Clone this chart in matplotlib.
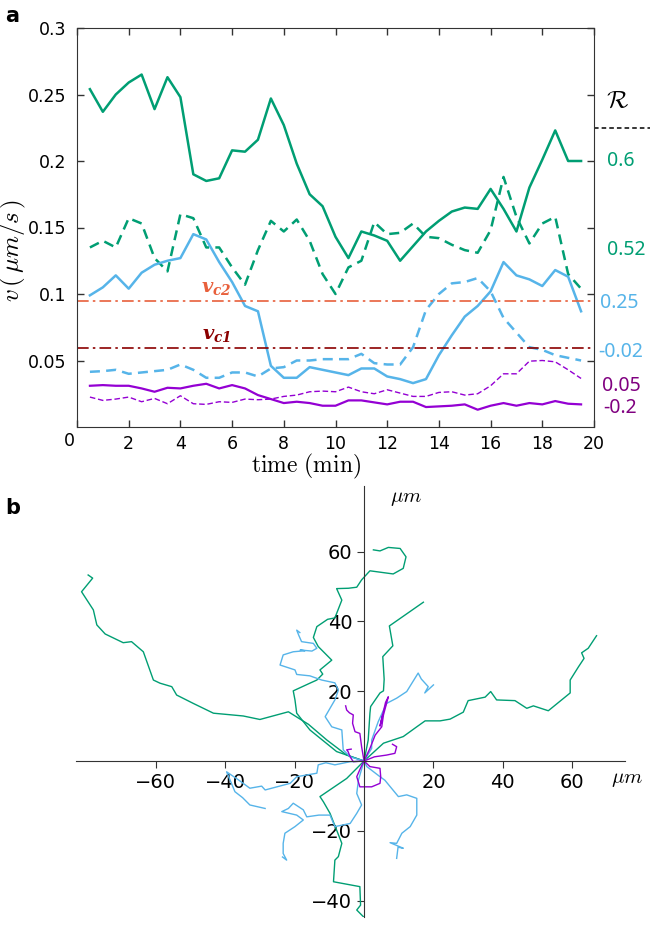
import matplotlib
matplotlib.use('Agg')
import matplotlib.pyplot as plt
import matplotlib.transforms as mtransforms

plt.rcParams['mathtext.fontset'] = 'cm'

# ---- panel a: speed vs time ----
time_min = [0.5, 1.0, 1.5, 2.0, 2.5, 3.0, 3.5, 4.0, 4.5, 5.0, 5.5, 6.0, 6.5, 7.0, 7.5,
            8.0, 8.5, 9.0, 9.5, 10.0, 10.5, 11.0, 11.5, 12.0, 12.5, 13.0, 13.5, 14.0,
            14.5, 15.0, 15.5, 16.0, 16.5, 17.0, 17.5, 18.0, 18.5, 19.0, 19.5]

v_green_solid = [0.254, 0.237, 0.250, 0.259, 0.265, 0.239, 0.263, 0.248, 0.190, 0.185,
                 0.187, 0.208, 0.207, 0.216, 0.247, 0.227, 0.198, 0.175, 0.166, 0.143,
                 0.127, 0.147, 0.144, 0.140, 0.125, 0.136, 0.147, 0.155, 0.162, 0.165,
                 0.164, 0.179, 0.164, 0.147, 0.180, 0.201, 0.223, 0.200, 0.200]
v_green_dash = [0.135, 0.140, 0.135, 0.157, 0.153, 0.127, 0.117, 0.160, 0.157, 0.135,
                0.135, 0.120, 0.107, 0.133, 0.155, 0.147, 0.156, 0.140, 0.115, 0.100,
                0.120, 0.125, 0.154, 0.145, 0.146, 0.153, 0.143, 0.142, 0.137, 0.133,
                0.131, 0.148, 0.188, 0.158, 0.138, 0.153, 0.158, 0.115, 0.104]
v_blue_solid = [0.099, 0.105, 0.114, 0.104, 0.116, 0.122, 0.125, 0.127, 0.145, 0.141,
                0.124, 0.109, 0.091, 0.087, 0.046, 0.037, 0.037, 0.045, 0.043, 0.041,
                0.039, 0.044, 0.044, 0.038, 0.036, 0.033, 0.036, 0.054, 0.069, 0.083,
                0.091, 0.102, 0.124, 0.114, 0.111, 0.106, 0.118, 0.113, 0.087]
v_blue_dash = [0.0415, 0.042, 0.043, 0.040, 0.041, 0.042, 0.043, 0.047, 0.043, 0.037,
               0.037, 0.041, 0.041, 0.038, 0.044, 0.045, 0.050, 0.050, 0.051, 0.051,
               0.051, 0.055, 0.048, 0.047, 0.047, 0.060, 0.088, 0.100, 0.108, 0.109,
               0.112, 0.102, 0.082, 0.071, 0.060, 0.058, 0.054, 0.052, 0.050]
v_violet_solid = [0.031, 0.0315, 0.031, 0.031, 0.029, 0.0265, 0.0295, 0.029, 0.031, 0.0325,
                  0.029, 0.0315, 0.029, 0.024, 0.021, 0.018, 0.019, 0.018, 0.016, 0.016,
                  0.020, 0.020, 0.0185, 0.017, 0.019, 0.019, 0.015, 0.0155, 0.016, 0.017,
                  0.013, 0.016, 0.018, 0.016, 0.018, 0.017, 0.0195, 0.0175, 0.017]
v_violet_dash = [0.0225, 0.020, 0.021, 0.0225, 0.019, 0.0215, 0.0175, 0.0235, 0.0175, 0.017,
                 0.019, 0.0185, 0.021, 0.0205, 0.021, 0.023, 0.024, 0.0265, 0.027, 0.0265,
                 0.030, 0.0265, 0.025, 0.028, 0.0255, 0.023, 0.023, 0.026, 0.0265, 0.024,
                 0.025, 0.031, 0.040, 0.040, 0.0495, 0.050, 0.049, 0.043, 0.0365]

v_c1 = 0.0595
v_c2 = 0.0945
r_split = 0.225
r_labels = ['0.6', '0.52', '0.25', '-0.02', '0.05', '-0.2']
yticks_a = [0.05, 0.1, 0.15, 0.2, 0.25, 0.3]
ytick_labels_a = ['0.05', '0.1', '0.15', '0.2', '0.25', '0.3']
xticks_a = [0, 2, 4, 6, 8, 10, 12, 14, 16, 18, 20]

# ---- panel b: trajectories (um) ----
green_tracks = [
    ([0, -5, -10.7, -16, -21.8, -30, -34.8, -43.4, -49.2, -54, -55.4, -58.8, -60.7, -63.6,
      -67, -69.4, -74.6, -77, -78, -81.4, -78.2, -79.5],
     [0, 1.7, 6, 10.5, 14.1, 11.9, 12.9, 13.7, 16.5, 18.9, 21.3, 22.3, 23.2, 31.3,
      34.2, 33.9, 36.4, 39, 43.3, 48.5, 52.4, 53.3]),
    ([0, -7.9, -15.6, -19.4, -19.9, -20.4, -15.6, -13.6, -11.9, -12.7, -9.3, -13.2, -14.6,
      -13.6, -10.5, -8.4, -6.4, -7.9, -4.5, -2.1, -0.7, 1.7, 8.4, 11.3, 12.1, 10.4, 7, 4.6, 2.7],
     [0, 2.7, 8.9, 13.7, 17.5, 20.1, 22.3, 23.2, 24.9, 26.1, 28.9, 32.8, 35.4,
      38.5, 40.6, 41, 46.1, 49.4, 49.5, 49.8, 51.9, 54.5, 53.6, 55.2, 58.5, 60.9, 61.2, 60.2, 60.5]),
    ([0, 1.2, 1.7, 1.9, 4.6, 5.6, 5.8, 5.4, 8.3, 7.3, 17.1],
     [0, 6, 13.7, 15.6, 19.5, 20.1, 23.4, 29.9, 33, 38.7, 45.5]),
    ([0, 5.6, 11.3, 15.2, 17.6, 21.9, 24.8, 28.6, 30, 34.9, 36.5, 38.2, 43.5, 46.9, 48.8,
      53.1, 59.4, 59.4, 61.8, 63.4, 62.7, 64.6, 67],
     [0, 5.1, 7, 9.8, 11.5, 11.5, 12, 14, 17.3, 18.3, 19.9, 17.5, 17.3, 15.1, 15.8,
      14.4, 19.5, 23.2, 27, 29.4, 31, 32.3, 35.9]),
    ([0, -5, -12.7, -11.7, -9.8, -7.9, -6.4, -7.4, -8.4, -8.8, -1.2, -1, -2.1, -0.2],
     [0, -5, -10.2, -11.7, -15, -19.8, -23.6, -27.4, -28.4, -34.6, -36, -41.3, -42.7, -44.6]),
]

blue_tracks = [
    ([0, -4, -6, -6.4, -9.3, -11.2, -9.8, -8.4, -7.4, -8.4, -12.2, -15.6, -19.4, -19.9,
      -24.2, -23.3, -20.4, -17, -18.4, -15, -13.6, -14.6, -18, -18.8, -19.4, -18.5],
     [0, 1.2, 3.2, 8.9, 9.8, 12.7, 15.1, 17.5, 20.3, 22.4, 23.2, 24.4, 24.8, 26.1,
      27.5, 30.4, 31.3, 31.6, 31.8, 31.5, 32.3, 33.7, 34.2, 36, 37.5, 36.8]),
    ([0, -4, -8.4, -11, -13.2, -13.6, -19.4, -21.3, -28.5, -29.5, -32.9, -36.2, -39.6,
      -37.2, -35, -32.9, -28.5],
     [0, -0.2, -1.1, -0.5, -1.1, -3.5, -4.5, -6.4, -8.3, -7.2, -7.8, -5.4, -3.1,
      -8.8, -10.5, -12.6, -13.6]),
    ([0, -1.6, -2.1, -0.7, -2.1, -4, -8.4, -9.8, -13, -16.5, -17.5, -20.4, -21.8, -23.7,
      -19.4, -17.5, -19.9, -22.8, -23.3, -23.3, -22.3, -23.5],
     [0, -5.4, -9.3, -12.6, -15, -17.9, -18.8, -15.5, -15.5, -16, -14, -12.1, -13.6, -14.5,
      -15.5, -16.9, -18.8, -20.7, -23.6, -26.5, -28.4, -27.5]),
    ([0, 0.8, 4.6, 6, 9.9, 12.3, 15.2, 15.2, 13.3, 10.9, 9.4, 7.5, 11.3, 9.8, 9.4],
     [0, -1.6, -4.5, -5.5, -10.2, -9.7, -10.7, -15.5, -18.8, -20.7, -23.6, -23.4, -25, -24.7, -27.9]),
    ([0, 2.2, 2.2, 4.1, 6.5, 9.4, 12.3, 15.6, 16.5, 18.5, 17.5, 20],
     [0, 3.6, 6, 11.3, 16.5, 18, 19.9, 25.2, 23.5, 21.3, 19.5, 21.8]),
]

violet_tracks = [
    ([0, -0.7, -1.2, -2.6, -3.3, -3.1, -4.2, -5, -5.3],
     [0, 4.1, 7.9, 8.4, 10.8, 13.2, 13.8, 14.6, 15.8]),
    ([0, 1.7, 3.2, 5.1, 5.6, 7, 6.2, 4.6, 5.3],
     [0, 3.6, 7.4, 9.8, 13.2, 18.4, 16.8, 10, 13]),
    ([0, 3, 6.5, 8.9, 9.4, 8.2],
     [0, 1.2, 1.7, 2.2, 4.1, 4.8]),
    ([0, -3.1, -4, -4.6, -5, -3.7],
     [0, -0.2, 1.2, 2.7, 3.2, 3.4]),
    ([0, 1.7, 4.6, 4.8, 4.6, 2.2, -1.2, -2.1, -1, 0],
     [0, -1.6, -2.1, -4.5, -6.4, -7.4, -7.4, -4.5, -2, 0]),
]
xticks_b = [-60, -40, -20, 20, 40, 60]
yticks_b = [-40, -20, 20, 40, 60]

GREEN = '#009E73'
BLUE = '#56B4E9'
VIOLET = '#9400D3'
PURPLE_TXT = '#800080'
VC2_COL = '#E8603C'
VC1_COL = '#8B0000'

W, H = 650, 926
fig = plt.figure(figsize=(W / 100, H / 100), dpi=100)


def px(x, y):
    # pixel position -> figure fraction
    return x / W, 1 - y / H


# ---- panel a ----
ax = fig.add_axes([77 / W, 1 - 427 / H, 517 / W, 399 / H])
ax.plot(time_min, v_green_solid, color=GREEN, lw=1.8)
ax.plot(time_min, v_green_dash, color=GREEN, lw=1.8, dashes=(4, 2.5))
ax.plot(time_min, v_blue_solid, color=BLUE, lw=1.8)
ax.plot(time_min, v_blue_dash, color=BLUE, lw=1.8, dashes=(4, 2.5))
ax.plot(time_min, v_violet_solid, color=VIOLET, lw=1.6)
ax.plot(time_min, v_violet_dash, color=VIOLET, lw=1.0, dashes=(4, 2))
ax.axhline(v_c2, color=VC2_COL, lw=1.2, linestyle=(0, (7, 2.5, 1.5, 2.5)))
ax.axhline(v_c1, color=VC1_COL, lw=1.2, linestyle=(0, (7, 2.5, 1.5, 2.5)))

ax.set_xlim(0, 20)
ax.set_ylim(0, 0.3)
ax.set_yticks(yticks_a)
ax.set_yticklabels(ytick_labels_a)
ax.set_xticks(xticks_a)
ax.set_xticklabels([''] + [str(t) for t in xticks_a[1:]])
ax.tick_params(direction='in', top=True, right=True, labelsize=12.5, length=5,
               width=1, color='#333333')
ax.tick_params(axis='x', pad=6)
ax.tick_params(axis='y', pad=8)
for s in ax.spines.values():
    s.set_color('#333333')

ax.text(5.4, v_c2 + 0.003, r'$\mathbfit{v_{c2}}$', color=VC2_COL, fontsize=14,
        ha='center', va='bottom', math_fontfamily='dejavuserif')
ax.text(5.4, v_c1 + 0.003, r'$\mathbfit{v_{c1}}$', color=VC1_COL, fontsize=14,
        ha='center', va='bottom', math_fontfamily='dejavuserif')

# R side labels
trans = mtransforms.blended_transform_factory(ax.transAxes, ax.transData)
ax.plot([1.0, (W - 77) / 517], [r_split, r_split], color='black', lw=1.1,
        dashes=(3, 2), transform=trans, clip_on=False)
fig.text(*px(618, 100), r'$\mathcal{R}$', fontsize=18, ha='center', va='center')
label_pos = [(607, 161), (607, 250), (600, 303), (598, 352), (602, 386), (603, 408)]
label_col = [GREEN, GREEN, BLUE, BLUE, PURPLE_TXT, PURPLE_TXT]
for lab, (lx, ly), c in zip(r_labels, label_pos, label_col):
    fig.text(*px(lx, ly), lab, color=c, fontsize=14, ha='left', va='center',
             family='Noto Sans')

fig.text(*px(69, 441), '0', fontsize=12.5, ha='center', va='center')
fig.text(*px(306, 466), r'$\mathrm{time\ (min)}$', fontsize=17, ha='center', va='center')
fig.text(*px(13, 250), r'$v\,(\,\mu m/s\,)$', fontsize=18, ha='center', va='center',
         rotation=90)
fig.text(*px(12, 16), 'a', fontsize=15, fontweight='bold', ha='center', va='center')

# ---- panel b ----
bx = fig.add_axes([76 / W, 1 - 917 / H, 549 / W, 431 / H])
for xs, ys in green_tracks:
    bx.plot(xs, ys, color=GREEN, lw=1.0)
for xs, ys in blue_tracks:
    bx.plot(xs, ys, color=BLUE, lw=1.0)
for xs, ys in violet_tracks:
    bx.plot(xs, ys, color=VIOLET, lw=1.0)

bx.set_xlim(-83, 75.2)
bx.set_ylim(-44.7, 78.8)
bx.spines['left'].set_position(('data', 0))
bx.spines['bottom'].set_position(('data', 0))
bx.spines['top'].set_visible(False)
bx.spines['right'].set_visible(False)
for s in ('left', 'bottom'):
    bx.spines[s].set_color('#333333')
bx.xaxis.set_ticks_position('bottom')
bx.yaxis.set_ticks_position('left')
bx.set_xticks(xticks_b)
bx.set_yticks(yticks_b)
bx.tick_params(direction='out', labelsize=14, length=5, color='#333333')

fig.text(*px(390, 498), r'$\mu m$', fontsize=15, ha='left', va='center')
fig.text(*px(611, 779), r'$\mu m$', fontsize=15, ha='left', va='center')
fig.text(*px(13, 508), 'b', fontsize=15, fontweight='bold', ha='center', va='center')

fig.savefig('out.png', dpi=100)
